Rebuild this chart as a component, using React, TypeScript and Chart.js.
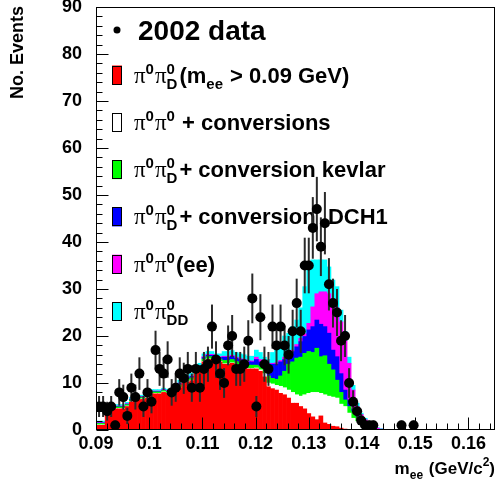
import React, { useEffect, useRef } from 'react';
import { Chart, registerables } from 'chart.js';

Chart.register(...registerables);

// Axis range and histogram binning (GeV/c^2)
const X_MIN = 0.09;
const X_MAX = 0.165;
const HIST_MIN = 0.0902;
const BIN_WIDTH = 0.000758;
const Y_MAX = 90;

const xTickValues = [0.09, 0.1, 0.11, 0.12, 0.13, 0.14, 0.15, 0.16];
const yTickValues = [0, 10, 20, 30, 40, 50, 60, 70, 80, 90];

// 2002 data: events per bin
const dataCounts = [
  5, 5, 4, 5, 1, 8, 7, 3, 9, 7,
  12, 5, 8, 6, 17, 13, 12, 15, 8, 9,
  12, 11, 13, 9, 13, 9, 13, 14, 22, 15,
  12, 10, 18, 20, 13, 13, 14, 19, 28, 5,
  24, 14, 13, 22, 18, 22, 18, 16, 21, 27,
  21, 35, 35, 43, 47, 39, 44, 31, 27, 25,
  19, 20, 10, 6, 4, 2, 1, 1, 1, 0,
  0, 0, 0, 0, 0, 1, 0, 0, 1, 0,
];

// Monte Carlo components (stacked, bottom to top)
const piDalitzHighMass = [
  1, 1, 4, 4, 4.5, 4.5, 4.5, 5, 6, 6.2,
  6.5, 6.5, 6.8, 7.7, 7.7, 7.7, 8, 7.8, 7.5, 8.5,
  9, 10, 10.2, 10.5, 12, 12.5, 14.5, 15, 15, 14.5,
  14.5, 14, 14, 14.2, 13.8, 13.5, 13.3, 13, 13, 13,
  12.5, 11.3, 9.2, 8.8, 8.5, 7.8, 7.5, 6.8, 5.7, 5.7,
  5, 4.5, 3.5, 2.8, 2.2, 3, 1.5, 1.2, 0.8, 0.7,
  0.4, 0.2, 0, 0, 0, 0, 0, 0, 0, 0,
  0, 0, 0, 0, 0, 0, 0, 0, 0, 0,
];

const piPiConversions = [
  0.1, 0.1, 0.1, 0.1, 0.1, 0.1, 0.1, 0.1, 0.1, 0.1,
  0.1, 0.1, 0.1, 0.1, 0.1, 0.1, 0.1, 0.1, 0.1, 0.1,
  0.1, 0.1, 0.1, 0.1, 0.1, 0.1, 0.1, 0.1, 0.1, 0.1,
  0.1, 0.1, 0.1, 0.1, 0.1, 0.1, 0.1, 0.1, 0.1, 0.2,
  0.3, 0.7, 0.8, 1.0, 1.0, 1.5, 1.5, 1.7, 2.3, 1.8,
  2.2, 3.0, 4.3, 5.2, 5.8, 4.8, 6.0, 6.0, 6.2, 6.1,
  5.1, 4.8, 3.6, 2.5, 1.8, 1.2, 0.6, 0.3, 0, 0,
  0, 0, 0, 0, 0, 0, 0, 0, 0, 0,
];

const convKevlar = [
  0.3, 0.3, 0.3, 0.3, 0.3, 0.3, 0.3, 0.3, 0.3, 0.3,
  0.3, 0.3, 0.3, 0.3, 0.3, 0.3, 0.3, 0.3, 0.3, 0.3,
  0.5, 0.5, 0.5, 0.5, 0.5, 0.5, 0.5, 0.5, 0.5, 0.5,
  0.5, 0.7, 0.7, 0.7, 0.7, 0.7, 0.7, 0.7, 0.7, 0.6,
  0.7, 1.0, 1.5, 1.2, 1.3, 2.2, 3.5, 5.5, 6.5, 7.8,
  8.3, 8.8, 8.9, 8.5, 9.4, 7.8, 8.3, 6.8, 5.8, 3.8,
  2.5, 1.4, 1.4, 1.4, 1.0, 0.6, 0.6, 0.3, 0.3, 0,
  0, 0, 0, 0, 0, 0, 0, 0, 0, 0,
];

const convDCH1 = [
  0.1, 0.1, 0.1, 0.1, 0.1, 0.1, 0.1, 0.1, 0.1, 0.1,
  0.1, 0.1, 0.1, 0.1, 0.1, 0.1, 0.1, 0.1, 0.1, 0.1,
  0.3, 0.3, 0.3, 0.3, 0.3, 0.3, 0.3, 0.3, 0.3, 0.3,
  0.3, 0.7, 0.7, 0.7, 0.7, 0.7, 0.7, 0.7, 0.7, 1.2,
  1.0, 1.2, 2.5, 3.0, 3.2, 3.0, 2.5, 1.6, 2.2, 2.4,
  3.3, 3.6, 4.6, 5.5, 6.0, 6.9, 6.2, 6.6, 4.2, 5.0,
  4.0, 2.1, 1.4, 0.6, 0.4, 0.2, 0.1, 0.1, 0, 0,
  0, 0, 0, 0, 0, 0, 0, 0, 0, 0,
];

const piPiEE = [
  0.1, 0.1, 0.1, 0.1, 0.1, 0.1, 0.1, 0.1, 0.1, 0.1,
  0.1, 0.1, 0.1, 0.1, 0.1, 0.1, 0.1, 0.1, 0.1, 0.1,
  0.1, 0.1, 0.1, 0.1, 0.1, 0.2, 0.2, 0.2, 0.2, 0.2,
  0.2, 0.2, 0.2, 0.2, 0.2, 0.2, 0.2, 0.2, 0.2, 0.5,
  0.5, 0.3, 0.2, 0.2, 0.3, 0.3, 0.5, 0.4, 0.3, 0.5,
  0.7, 0.6, 1.4, 4.2, 5.6, 6.9, 7.4, 8.4, 10.7, 10.4,
  11.0, 10.5, 7.8, 4.0, 1.8, 1.3, 0.9, 0.6, 0.4, 0.4,
  0.2, 0.05, 0, 0, 0, 0, 0, 0, 0, 0,
];

const doubleDalitz = [
  0.3, 0.3, 0.3, 0.3, 0.3, 0.3, 0.3, 0.3, 0.3, 0.3,
  0.3, 0.3, 0.3, 0.3, 0.3, 0.3, 0.3, 0.3, 0.3, 0.3,
  0.6, 0.6, 0.6, 0.6, 0.6, 0.6, 0.6, 0.6, 0.6, 0.6,
  0.6, 1.0, 1.0, 1.0, 1.0, 1.0, 1.0, 1.0, 1.0, 1.5,
  1.5, 1.0, 0.8, 2.3, 2.7, 3.7, 4.5, 4.6, 5.0, 5.2,
  6.5, 10.0, 11.3, 10.0, 7.2, 6.8, 6.8, 5.7, 4.2, 4.5,
  2.5, 2.0, 1.3, 1.0, 0.7, 0.3, 0.3, 0.2, 0.2, 0.1,
  0.1, 0.05, 0, 0, 0, 0, 0, 0, 0, 0,
];

const binCenters = dataCounts.map((_, i) => HIST_MIN + (i + 0.5) * BIN_WIDTH);

const SANS = '"Liberation Sans", Arial, Helvetica, sans-serif';
const SERIF = '"Liberation Serif", "Times New Roman", serif';

type Seg =
  | { text: string; font: string; dy?: number }
  | { sup?: string; sub?: string; size: number; up: number; down: number; after?: number };

const LEG_MAIN = `bold 22px ${SANS}`;
const PI: Seg = { text: '\u03c0', font: `23px ${SERIF}` };
const S0: Seg = { sup: '0', size: 15, up: 9, down: 6, after: 1 };
const S0D: Seg = { sup: '0', sub: 'D', size: 15, up: 9, down: 6, after: 2 };
const S0DD: Seg = { sup: '0', sub: 'DD', size: 15, up: 9, down: 6, after: 2 };
const txt = (t: string): Seg => ({ text: t, font: LEG_MAIN });

const legendEntries: { color: string; segs: Seg[] }[] = [
  { color: '#ff0000', segs: [PI, S0, PI, S0D, txt('(m'), { sub: 'ee', size: 15, up: 0, down: 6, after: 1 }, txt(' > 0.09 GeV)')] },
  { color: '#ffffff', segs: [PI, S0, PI, S0, txt(' + conversions')] },
  { color: '#00ff00', segs: [PI, S0, PI, S0D, txt('+ conversion kevlar')] },
  { color: '#0000ff', segs: [PI, S0, PI, S0D, txt('+ conversion  DCH1')] },
  { color: '#ff00ff', segs: [PI, S0, PI, S0, txt('(ee)')] },
  { color: '#00ffff', segs: [PI, S0, PI, S0DD] },
];

function drawSegs(ctx: CanvasRenderingContext2D, x: number, base: number, segs: Seg[], measureOnly = false): number {
  let cx = x;
  for (const s of segs) {
    if ('text' in s) {
      ctx.font = s.font;
      if (!measureOnly) ctx.fillText(s.text, cx, base + (s.dy ?? 0));
      cx += ctx.measureText(s.text).width;
    } else {
      ctx.font = `bold ${s.size}px ${SANS}`;
      let w = 0;
      if (s.sup) {
        if (!measureOnly) ctx.fillText(s.sup, cx, base - s.up);
        w = Math.max(w, ctx.measureText(s.sup).width);
      }
      if (s.sub) {
        if (!measureOnly) ctx.fillText(s.sub, cx, base + s.down);
        w = Math.max(w, ctx.measureText(s.sub).width);
      }
      cx += w + (s.after ?? 0);
    }
  }
  return cx;
}

const DATA_INDEX = 6;

const errorBarsPlugin = {
  id: 'errorBars',
  beforeDatasetDraw(chart: any, args: any) {
    if (args.index !== DATA_INDEX) return;
    const { ctx, chartArea: a, scales } = chart;
    ctx.save();
    ctx.beginPath();
    ctx.rect(a.left, a.top, a.right - a.left, a.bottom - a.top);
    ctx.clip();
    ctx.strokeStyle = '#2a2a2a';
    ctx.lineWidth = 2;
    dataCounts.forEach((n, i) => {
      if (n <= 0) return;
      const err = Math.sqrt(n);
      const px = scales.x.getPixelForValue(binCenters[i]);
      ctx.beginPath();
      ctx.moveTo(px, scales.y.getPixelForValue(Math.max(0, n - err)));
      ctx.lineTo(px, scales.y.getPixelForValue(n + err));
      ctx.stroke();
    });
    ctx.restore();
  },
};

const framePlugin = {
  id: 'frameTicks',
  afterDatasetsDraw(chart: any) {
    const { ctx, chartArea: a, scales } = chart;
    ctx.save();
    ctx.strokeStyle = '#000';
    ctx.lineWidth = 1;
    const l = Math.round(a.left) + 0.5;
    const t = Math.round(a.top) + 0.5;
    const r = Math.round(a.right) - 0.5;
    const b = Math.round(a.bottom) - 0.5;
    ctx.strokeRect(l, t, r - l, b - t);
    ctx.beginPath();
    // x-axis: major every 0.01, minor every 0.002, drawn inward
    for (let k = 0; k <= 37; k++) {
      const v = X_MIN + k * 0.002;
      if (v > X_MAX + 1e-9) break;
      const px = Math.round(scales.x.getPixelForValue(v)) + 0.5;
      const len = k % 5 === 0 ? 12 : 6;
      ctx.moveTo(px, b);
      ctx.lineTo(px, b - len);
    }
    // y-axis: major every 10, minor every 2
    for (let k = 0; k <= 45; k++) {
      const v = k * 2;
      const py = Math.round(scales.y.getPixelForValue(v)) + 0.5;
      const len = k % 5 === 0 ? 12 : 6;
      ctx.moveTo(l, py);
      ctx.lineTo(l + len, py);
    }
    ctx.stroke();
    ctx.restore();
  },
};

const legendPlugin = {
  id: 'physLegend',
  beforeDatasetsDraw(chart: any) {
    const { ctx } = chart;
    ctx.save();
    ctx.fillStyle = '#000';
    ctx.textAlign = 'left';
    ctx.textBaseline = 'alphabetic';
    // data marker entry
    ctx.beginPath();
    ctx.arc(117, 30, 3.5, 0, Math.PI * 2);
    ctx.fill();
    ctx.font = `bold 28px ${SANS}`;
    ctx.fillText('2002 data', 138, 40);
    legendEntries.forEach((e, k) => {
      const cy = 75 + k * 47.3;
      ctx.fillStyle = e.color;
      ctx.fillRect(112, cy - 9.5, 10, 19);
      ctx.strokeStyle = '#000';
      ctx.lineWidth = 1;
      ctx.strokeRect(112.5, Math.round(cy - 9.5) + 0.5, 9, 18);
      ctx.fillStyle = '#000';
      drawSegs(ctx, 134, cy + 7.5, e.segs);
    });
    ctx.restore();
  },
};

const titlesPlugin = {
  id: 'axisTitles',
  afterDraw(chart: any) {
    const { ctx } = chart;
    ctx.save();
    ctx.fillStyle = '#000';
    ctx.textBaseline = 'alphabetic';
    ctx.textAlign = 'left';
    // y title, top-aligned, rotated
    ctx.save();
    ctx.translate(23, 99);
    ctx.rotate(-Math.PI / 2);
    ctx.font = `bold 18px ${SANS}`;
    ctx.fillText('No. Events', 0, 0);
    ctx.restore();
    // x title, right-aligned
    const segs: Seg[] = [
      { text: 'm', font: `bold 17px ${SANS}` },
      { sub: 'ee', size: 12, up: 0, down: 5, after: 1 },
      { text: ' (GeV/c', font: `bold 17px ${SANS}` },
      { sup: '2', size: 12, up: 8, down: 0 },
      { text: ')', font: `bold 17px ${SANS}` },
    ];
    const w = drawSegs(ctx, 0, 0, segs, true);
    drawSegs(ctx, 495 - w, 474, segs);
    ctx.restore();
  },
};

function makeBar(label: string, values: number[], color: string) {
  return {
    type: 'bar' as const,
    label,
    data: values.map((v, i) => ({ x: binCenters[i], y: v })),
    backgroundColor: color,
    borderWidth: 0,
    barPercentage: 1,
    categoryPercentage: 1,
    order: 1,
  };
}

export default function App() {
  const canvasRef = useRef<HTMLCanvasElement | null>(null);

  useEffect(() => {
    const canvas = canvasRef.current;
    if (!canvas) return;
    const points = dataCounts
      .map((n, i) => ({ x: binCenters[i], y: n }))
      .filter((p) => p.y > 0);

    const chart = new Chart(canvas, {
      type: 'bar',
      data: {
        datasets: [
          makeBar('pi0 pi0_D (mee > 0.09 GeV)', piDalitzHighMass, '#ff0000'),
          makeBar('pi0 pi0 + conversions', piPiConversions, '#ffffff'),
          makeBar('pi0 pi0_D + conversion kevlar', convKevlar, '#00ff00'),
          makeBar('pi0 pi0_D + conversion DCH1', convDCH1, '#0000ff'),
          makeBar('pi0 pi0 (ee)', piPiEE, '#ff00ff'),
          makeBar('pi0 pi0_DD', doubleDalitz, '#00ffff'),
          {
            type: 'line' as const,
            label: '2002 data',
            data: points,
            showLine: false,
            pointRadius: 5,
            pointBackgroundColor: '#000',
            pointBorderWidth: 0,
            order: -1,
          } as any,
        ],
      },
      options: {
        animation: false,
        responsive: false,
        devicePixelRatio: 1,
        events: [],
        layout: { padding: { top: 7, right: 3, left: 0, bottom: 0 } },
        plugins: { legend: { display: false }, tooltip: { enabled: false } },
        scales: {
          x: {
            type: 'linear',
            min: X_MIN,
            max: X_MAX,
            offset: false,
            stacked: true,
            grid: { display: false, drawTicks: false },
            border: { display: false },
            afterBuildTicks: (s: any) => {
              s.ticks = xTickValues.map((v) => ({ value: v }));
            },
            afterFit: (s: any) => {
              s.height = 57;
              s.paddingLeft = 0;
              s.paddingRight = 0;
            },
            ticks: {
              autoSkip: false,
              maxRotation: 0,
              padding: 3,
              color: '#000',
              font: { family: SANS, size: 18, weight: 'bold' },
              callback: (v: any) => String(Math.round(Number(v) * 1000) / 1000),
            },
          },
          y: {
            type: 'linear',
            min: 0,
            max: Y_MAX,
            stacked: true,
            grid: { display: false, drawTicks: false },
            border: { display: false },
            afterBuildTicks: (s: any) => {
              s.ticks = yTickValues.map((v) => ({ value: v }));
            },
            afterFit: (s: any) => {
              s.width = 96;
              s.paddingTop = 0;
              s.paddingBottom = 0;
            },
            ticks: {
              padding: 14,
              color: '#000',
              font: { family: SANS, size: 18, weight: 'bold' },
            },
          },
        },
      } as any,
      plugins: [legendPlugin, errorBarsPlugin, framePlugin, titlesPlugin],
    });
    return () => chart.destroy();
  }, []);

  return (
    <div style={{ position: 'absolute', left: 0, top: 0, width: 500, height: 487, background: '#fff' }}>
      <canvas ref={canvasRef} width={500} height={487} />
    </div>
  );
}
